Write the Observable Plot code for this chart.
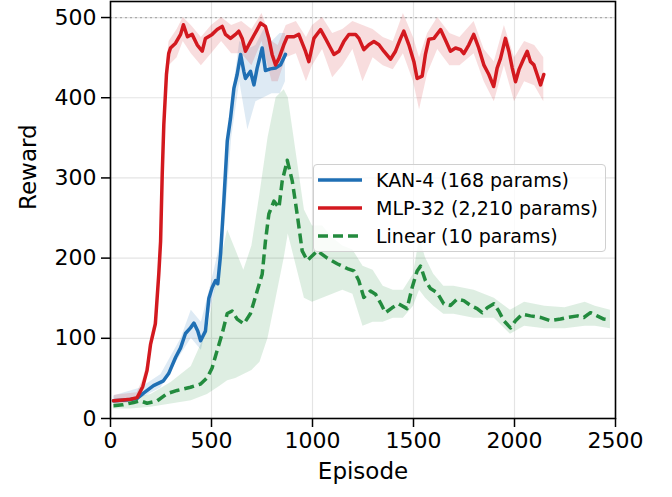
<!DOCTYPE html>
<html><head><meta charset="utf-8">
<script src="https://cdn.jsdelivr.net/npm/d3@7"></script>
<script src="https://cdn.jsdelivr.net/npm/@observablehq/plot@0.6"></script>
<style>
body{margin:0;background:#fff;font-family:"DejaVu Sans",sans-serif;}
#wrap{position:relative;width:672px;height:497px;}
#legend{position:absolute;left:313px;top:164px;width:293px;height:88px;border:1.5px solid #d0d0d0;border-radius:4px;background:rgba(255,255,255,0.8);box-sizing:border-box;}
.row{position:absolute;left:0;height:28px;display:flex;align-items:center;font-size:19px;color:#000;white-space:nowrap;}
.row svg{margin-left:4px;margin-right:14px;}
</style></head><body><div id="wrap"></div>
<script>
// ---- data ----
const seriesNames = ["KAN-4 (168 params)", "MLP-32 (2,210 params)", "Linear (10 params)"];
const seriesColors = ["#1f6fb4", "#d3191f", "#238b3e"];

const kanEp  = [15,80,132,165,213,262,288,322,347,371,396,413,432,446,470,487,503,520,531,545,561,578,594,611,627,644,660,668,693,710,726,751,767,792,817,842,866];
const kanVal = [22,23,25,32,41,47,56,76,88,106,113,119,109,97,109,150,163,172,168,205,271,346,374,412,429,454,433,424,433,416,437,462,434,436,437,441,454];
const kanBandEp = [15,150,250,350,400,450,500,550,600,640,680,720,760,800,840,866];
const kanBandLo = [18,25,38,80,100,85,140,190,350,420,360,395,400,405,405,420];
const kanBandHi = [28,38,55,100,135,120,170,225,395,470,460,465,485,470,480,480];

const mlpEp  = [15,60,100,132,160,181,198,222,239,248,256,264,277,288,297,322,347,361,381,404,429,454,470,503,528,553,569,594,619,635,652,668,693,726,743,767,784,800,817,834,858,875,908,932,965,982,1007,1040,1064,1089,1106,1131,1155,1180,1213,1230,1254,1279,1304,1329,1353,1386,1411,1436,1452,1477,1502,1518,1543,1559,1576,1601,1634,1658,1683,1708,1733,1749,1774,1798,1823,1848,1873,1897,1914,1931,1955,1972,1989,2005,2022,2046,2063,2079,2096,2112,2129,2145];
const mlpVal = [22,23,24,26,40,60,92,118,180,221,304,367,429,455,462,468,479,491,476,479,466,458,474,479,485,489,479,474,479,483,474,458,470,485,493,489,474,454,441,449,466,476,476,479,458,445,474,485,474,462,454,458,470,479,479,474,460,466,470,466,458,448,458,474,483,466,445,424,427,454,473,474,485,472,458,462,460,455,466,479,462,441,429,414,437,449,474,458,437,420,435,449,458,445,441,429,416,429];
const mlpBandEp = [20,132,160,181,198,222,239,256,277,290,330,360,400,450,500,550,600,650,700,750,800,830,870,920,970,1000,1050,1100,1150,1200,1250,1300,1350,1400,1450,1500,1530,1570,1620,1680,1730,1800,1850,1900,1950,2000,2050,2100,2145];
const mlpBandLo = [17,21,34,53,84,110,170,292,418,440,450,470,455,440,455,470,455,455,440,470,420,420,450,455,420,440,460,425,440,460,420,450,440,435,455,420,385,430,460,440,440,455,420,395,440,395,420,415,395];
const mlpBandHi = [29,32,48,68,100,126,190,314,440,470,485,500,490,475,490,500,490,495,485,505,470,465,490,495,475,490,500,480,485,495,490,485,475,470,505,475,450,480,500,480,475,495,460,445,490,450,470,465,450];

const linEp  = [15,60,115,148,181,231,280,330,396,446,479,503,528,553,578,602,627,660,693,726,751,767,784,809,834,850,875,900,924,949,974,1024,1073,1122,1172,1205,1229,1254,1287,1312,1337,1361,1394,1427,1468,1493,1518,1535,1559,1584,1617,1650,1683,1716,1749,1782,1815,1840,1865,1898,1922,1947,1980,2005,2038,2079,2129,2178,2228,2262,2312,2343,2376,2409,2442,2475];
const linVal = [16,17,20,22,19,22,31,35,39,43,51,63,85,106,131,134,124,118,131,159,180,221,255,271,263,296,322,296,255,209,197,209,200,193,187,184,172,151,159,155,144,132,138,143,137,163,184,190,172,162,157,143,141,149,147,141,137,132,138,143,134,122,113,122,130,128,126,122,124,126,128,126,132,128,124,123];
const linBandEp = [15,100,200,300,400,480,540,580,620,660,700,740,780,820,860,880,920,960,1000,1050,1100,1150,1200,1250,1300,1350,1400,1450,1500,1530,1560,1600,1650,1700,1800,1900,1980,2050,2150,2250,2350,2400,2475];
const linBandLo = [12,12,14,18,22,30,40,47,50,55,60,70,100,150,200,230,190,150,145,150,155,160,155,115,120,120,125,125,140,160,150,140,130,130,125,125,105,115,112,112,115,115,112];
const linBandHi = [22,25,30,45,65,110,190,235,210,185,215,280,350,400,410,400,330,260,240,240,225,215,210,190,185,165,160,160,180,225,200,180,165,165,160,150,135,145,140,138,145,140,135];

const xTicks = [0,500,1000,1500,2000,2500];
const yTicks = [0,100,200,300,400,500];
const refLine = [500];

// ---- build tables ----
const rows = (ep, v) => ep.map((e,i)=>({ep:e, v:v[i]}));
const band = (ep, lo, hi) => ep.map((e,i)=>({ep:e, lo:lo[i], hi:hi[i]}));
const kan = rows(kanEp, kanVal), mlp = rows(mlpEp, mlpVal), lin = rows(linEp, linVal);
const kanB = band(kanBandEp, kanBandLo, kanBandHi), mlpB = band(mlpBandEp, mlpBandLo, mlpBandHi), linB = band(linBandEp, linBandLo, linBandHi);

const chart = Plot.plot({
  width: 672, height: 497,
  marginLeft: 110, marginRight: 57, marginTop: 1, marginBottom: 79,
  style: {fontFamily: "DejaVu Sans", fontSize: "22px", color: "#000", background: "#fff"},
  x: {domain: [0, 2500]},
  y: {domain: [0, 520]},
  marks: [
    Plot.gridX(xTicks, {stroke: "#e4e4e4", strokeOpacity: 1, strokeWidth: 1.2}),
    Plot.gridY(yTicks, {stroke: "#e4e4e4", strokeOpacity: 1, strokeWidth: 1.2}),
    Plot.ruleY(refLine, {stroke: "#aaaaaa", strokeDasharray: "2,3", strokeWidth: 1.3}),
    Plot.areaY(kanB, {x: "ep", y1: "lo", y2: "hi", fill: seriesColors[0], fillOpacity: 0.15}),
    Plot.areaY(mlpB, {x: "ep", y1: "lo", y2: "hi", fill: seriesColors[1], fillOpacity: 0.15}),
    Plot.areaY(linB, {x: "ep", y1: "lo", y2: "hi", fill: seriesColors[2], fillOpacity: 0.15}),
    Plot.lineY(kan, {x: "ep", y: "v", stroke: seriesColors[0], strokeWidth: 3.5}),
    Plot.lineY(mlp, {x: "ep", y: "v", stroke: seriesColors[1], strokeWidth: 3.5}),
    Plot.lineY(lin, {x: "ep", y: "v", stroke: seriesColors[2], strokeWidth: 3.5, strokeDasharray: "10,5", strokeLinecap: "butt"}),
    Plot.frame({stroke: "#000", strokeWidth: 1.6}),
    Plot.axisX(xTicks, {tickSize: 9, tickPadding: 5, fontSize: 22, strokeWidth: 1.5, label: null, tickFormat: d => String(d)}),
    Plot.axisY(yTicks, {tickSize: 9, tickPadding: 5, fontSize: 22, strokeWidth: 1.5, label: null, tickFormat: d => String(d)}),
    Plot.text(["Reward"], {frameAnchor: "left", dx: -82, rotate: -90, fontSize: 23}),
    Plot.text(["Episode"], {frameAnchor: "bottom", dy: 60, fontSize: 23})
  ]
});
const wrap = document.getElementById("wrap");
wrap.appendChild(chart);

const legend = document.createElement("div");
legend.id = "legend";
seriesNames.forEach((name, i) => {
  const r = document.createElement("div");
  r.className = "row";
  r.style.top = (1 + i * 28) + "px";
  const dash = i === 2 ? ' stroke-dasharray="10,5"' : '';
  r.innerHTML = `<svg width="44" height="10"><line x1="0" y1="5" x2="44" y2="5" stroke="${seriesColors[i]}" stroke-width="3.5"${dash}/></svg><span>${name}</span>`;
  legend.appendChild(r);
});
wrap.appendChild(legend);
</script>
</body></html>
